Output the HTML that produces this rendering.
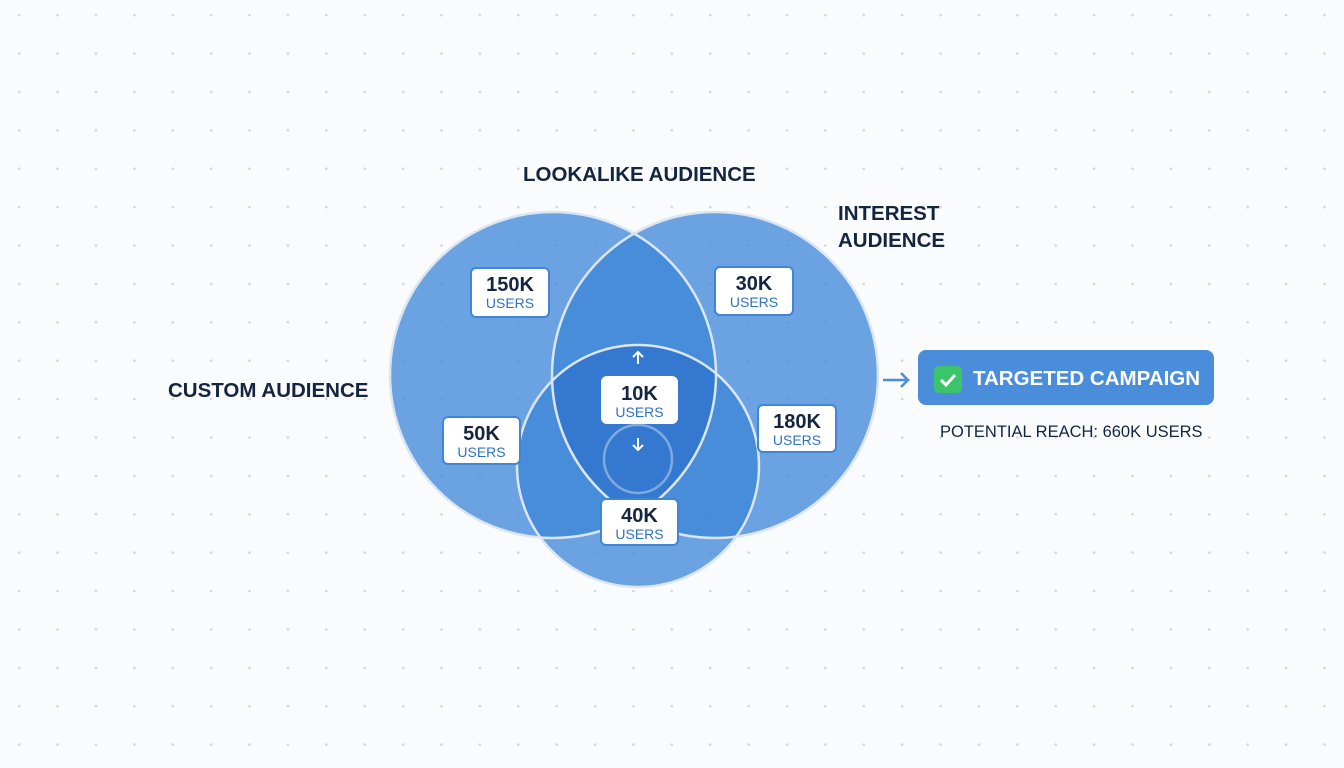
<!DOCTYPE html>
<html><head><style>
html,body{margin:0;padding:0}
body{width:1344px;height:768px;overflow:hidden;background-color:#fafbfc;background-image:radial-gradient(circle,#d3d8de 1.1px,transparent 1.6px);background-size:38.4px 38.4px;background-position:0 -4px;font-family:"Liberation Sans",sans-serif;position:relative}
.t{position:absolute;color:#14253f;font-weight:bold;font-size:20.5px;white-space:nowrap}
.box{position:absolute;background:#fff;border:2px solid #3f86d6;border-radius:6px;box-sizing:border-box;text-align:center}
.box b{display:block;font-size:20px;color:#14253f;margin-top:6px;line-height:20px}
.box span{display:block;font-size:14px;color:#2f72c4;line-height:16px}
</style></head><body>
<svg width="1344" height="768" style="position:absolute;left:0;top:0">
<defs>
<clipPath id="cl"><circle cx="553" cy="375" r="163"/></clipPath>
<clipPath id="cr"><circle cx="715" cy="375" r="163"/></clipPath>
</defs>
<g fill="rgb(62,134,216)" fill-opacity="0.76">
<circle cx="553" cy="375" r="163"/>
<circle cx="715" cy="375" r="163"/>
<circle cx="638" cy="466" r="121"/>
</g>
<g clip-path="url(#cl)"><g clip-path="url(#cr)"><circle cx="638" cy="466" r="121" fill="#2d6fca" fill-opacity="0.6"/></g></g>
<g fill="none" stroke="#dbe6f3" stroke-width="2.5">
<circle cx="553" cy="375" r="163"/>
<circle cx="715" cy="375" r="163"/>
<circle cx="638" cy="466" r="121"/>
<circle cx="638" cy="459" r="34" stroke-opacity="0.45"/>
</g>
<g stroke="#fff" stroke-width="2" fill="none">
<path d="M638 364V352M633 357l5-5 5 5"/>
<path d="M638 438V450M633 445l5 5 5-5"/>
</g>
<g stroke="#4a8edb" stroke-width="2.5" fill="none"><path d="M883 380H908M901 373l7 7-7 7"/></g>
<rect x="918" y="350" width="296" height="55" rx="8" fill="#4a8edb"/>
<rect x="934" y="366" width="28" height="27" rx="5" fill="#3cc46a"/>
<path d="M941 380l5 5 9-10" stroke="#fff" stroke-width="3" fill="none"/>
</svg>
<div class="t" style="left:523px;top:163px">LOOKALIKE AUDIENCE</div>
<div class="t" style="left:838px;top:200px;line-height:27px">INTEREST<br>AUDIENCE</div>
<div class="t" style="left:168px;top:379px">CUSTOM AUDIENCE</div>
<div class="t" style="left:973px;top:367px;color:#fff;font-size:20.5px">TARGETED CAMPAIGN</div>
<div class="t" style="left:940px;top:423px;font-weight:normal;font-size:16.5px">POTENTIAL REACH: 660K USERS</div>
<div class="box" style="left:470px;top:267px;width:80px;height:51px"><b>150K</b><span>USERS</span></div>
<div class="box" style="left:714px;top:266px;width:80px;height:50px"><b>30K</b><span>USERS</span></div>
<div class="box" style="left:442px;top:416px;width:79px;height:49px"><b>50K</b><span>USERS</span></div>
<div class="box" style="left:757px;top:404px;width:80px;height:49px"><b>180K</b><span>USERS</span></div>
<div class="box" style="left:601px;top:376px;width:77px;height:48px;border-color:#fff"><b>10K</b><span>USERS</span></div>
<div class="box" style="left:600px;top:498px;width:79px;height:48px"><b>40K</b><span>USERS</span></div>
</body></html>
